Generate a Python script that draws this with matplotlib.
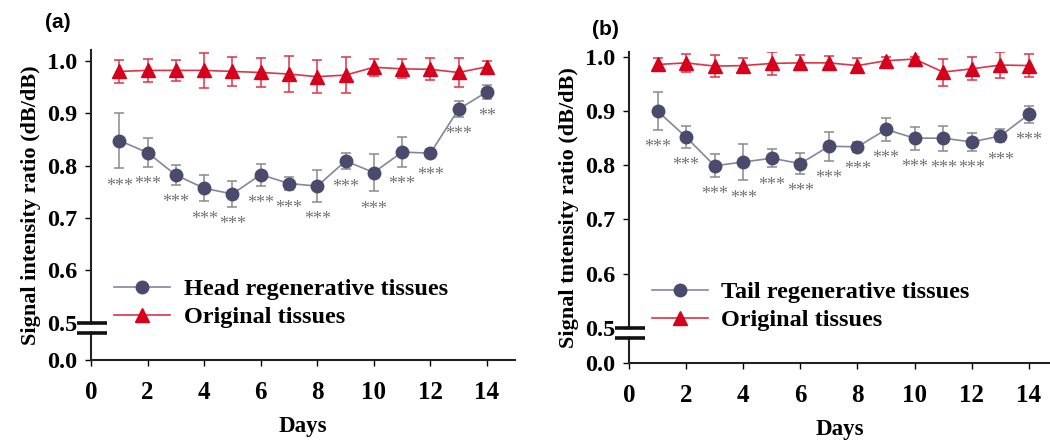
import matplotlib
matplotlib.use('Agg')
import matplotlib.pyplot as plt
from matplotlib.lines import Line2D

plt.rcParams['font.family'] = ['Liberation Serif', 'DejaVu Serif']

days = list(range(1, 15))

# panel (a)
head_mean = [0.848, 0.825, 0.782, 0.757, 0.746, 0.783, 0.766, 0.761, 0.809, 0.787, 0.826, 0.824, 0.908, 0.941]
head_err = [0.053, 0.027, 0.019, 0.025, 0.025, 0.021, 0.013, 0.030, 0.016, 0.036, 0.028, 0.008, 0.015, 0.014]
orig_a_mean = [0.980, 0.982, 0.982, 0.982, 0.980, 0.978, 0.975, 0.970, 0.973, 0.988, 0.985, 0.984, 0.978, 0.989]
orig_a_err = [0.022, 0.022, 0.020, 0.033, 0.028, 0.027, 0.034, 0.032, 0.035, 0.016, 0.018, 0.021, 0.028, 0.011]
stars_a = ['***'] * 13 + ['**']

# panel (b)
tail_mean = [0.900, 0.852, 0.799, 0.806, 0.813, 0.803, 0.835, 0.834, 0.866, 0.850, 0.850, 0.843, 0.854, 0.894]
tail_err = [0.035, 0.020, 0.021, 0.034, 0.017, 0.019, 0.027, 0.009, 0.021, 0.021, 0.023, 0.016, 0.012, 0.016]
orig_b_mean = [0.986, 0.989, 0.983, 0.984, 0.988, 0.989, 0.989, 0.984, 0.993, 0.996, 0.972, 0.978, 0.985, 0.984]
orig_b_err = [0.012, 0.016, 0.020, 0.014, 0.021, 0.014, 0.012, 0.014, 0.007, 0.004, 0.025, 0.021, 0.024, 0.021]
stars_b = ['***'] * 14

ytick_labels = ['0.0', '0.5', '0.6', '0.7', '0.8', '0.9', '1.0']
xticks = [0, 2, 4, 6, 8, 10, 12, 14]

dark = '#4a4a6c'
grey_line = '#85859f'
grey_err = '#8a8a8a'
red = '#d6001c'
red_line = '#dc3447'


def draw_panel(ax, mean, err, orig_mean, orig_err, stars, label, ylabel, zero_pos, ylim_top, xmax):
    ax.errorbar(days, mean, yerr=err, fmt='-o', color=grey_line, mfc=dark, mec=dark,
                ms=9, lw=1.2, ecolor=grey_err, elinewidth=1.1, capsize=3.5, capthick=1.1,
                zorder=3)
    ax.errorbar(days, orig_mean, yerr=orig_err, fmt='-^', color=red_line, mfc=red, mec=red,
                ms=10, lw=1.2, ecolor=red_line, elinewidth=1.1, capsize=3.5, capthick=1.1,
                zorder=3)
    for d, m, e, s in zip(days, mean, err, stars):
        ax.annotate(s, (d, m - e), xytext=(0, -16), textcoords='offset points',
                    ha='center', va='baseline', fontsize=13, color='#737373')

    ax.set_xlim(0, xmax)
    ax.set_ylim(zero_pos, ylim_top)
    ax.set_xticks(xticks)
    ax.set_yticks([zero_pos, 0.5, 0.6, 0.7, 0.8, 0.9, 1.0])
    ax.set_yticklabels(ytick_labels)
    for sp in ['top', 'right']:
        ax.spines[sp].set_visible(False)
    for sp in ['left', 'bottom']:
        ax.spines[sp].set_linewidth(1.5)
        ax.spines[sp].set_color('#222222')
    ax.tick_params(axis='y', direction='out', length=4, width=1, pad=6, labelsize=17.5)
    ax.tick_params(axis='x', direction='out', length=4, width=1, pad=11, labelsize=18)
    for t in ax.get_xticklabels() + ax.get_yticklabels():
        t.set_fontweight('bold')
    ax.set_xlabel('Days', fontsize=16.5, fontweight='bold', labelpad=9)
    ax.set_ylabel(ylabel, fontsize=16, fontweight='bold', labelpad=4)

    # axis break marks
    tr = ax.get_yaxis_transform()
    y1, y2 = 0.500, 0.481
    ax.plot([0, 0], [y1 - 0.003, y2 + 0.003], color='white', lw=5, transform=tr,
            clip_on=False, zorder=5, solid_capstyle='butt')
    ax.plot([0.002, 0.002], [y1, y2], ls='none', marker='_', ms=22, mew=2.6, color='#111111',
            transform=tr, clip_on=False, zorder=6)

    handles = [Line2D([], [], color=grey_line, lw=1.2, marker='o', ms=9, mfc=dark, mec=dark),
               Line2D([], [], color=red_line, lw=1.2, marker='^', ms=10, mfc=red, mec=red)]
    ax.legend(handles, [label, 'Original tissues'], loc='center left',
              bbox_to_anchor=(0.055, 0.183), frameon=False,
              numpoints=1, handlelength=2.3, handletextpad=0.55, labelspacing=0.25,
              borderpad=0, borderaxespad=0, prop={'weight': 'bold', 'size': 17.5})


fig = plt.figure(figsize=(10.5, 4.41), dpi=100)
ax_a = fig.add_axes([0.0867, 0.1837, 0.404, 0.703])
ax_b = fig.add_axes([0.599, 0.177, 0.401, 0.705])

draw_panel(ax_a, head_mean, head_err, orig_a_mean, orig_a_err, stars_a,
           'Head regenerative tissues', 'Signal intensity ratio (dB/dB)', 0.429, 1.021, 15.0)
draw_panel(ax_b, tail_mean, tail_err, orig_b_mean, orig_b_err, stars_b,
           'Tail regenerative tissues', 'Signal tntensity ratio (dB/dB)', 0.435, 1.009, 14.74)

fig.text(0.043, 0.948, '(a)', family='Liberation Sans', fontweight='bold', fontsize=15, va='center')
fig.text(0.564, 0.934, '(b)', family='Liberation Sans', fontweight='bold', fontsize=15, va='center')

fig.savefig('out.png', dpi=100)
